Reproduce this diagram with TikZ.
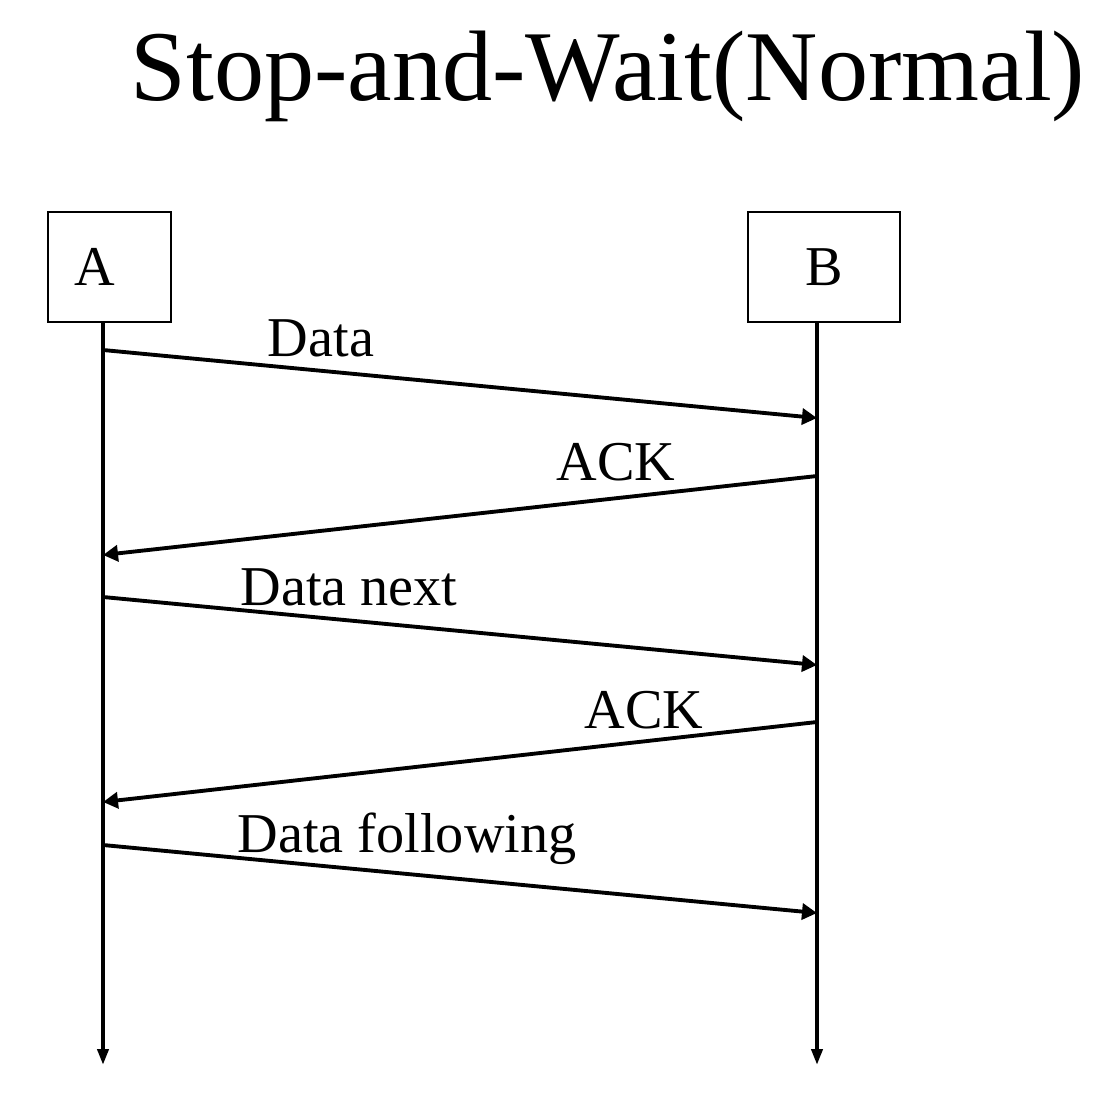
\documentclass[tikz,border=0pt]{standalone}
\usepackage{fontspec}
\setmainfont{Liberation Serif}
\usetikzlibrary{arrows.meta}
\tikzset{
  party/.style={draw,line width=0.4pt,minimum height=1.10cm,inner sep=0pt,font=\fontsize{16}{19}\selectfont},
  lifeline/.style={line width=1.1pt,-{Triangle[length=1.6mm,width=1.1mm]}},
  msg/.style={line width=1.1pt,-{Triangle[length=1.5mm,width=1.6mm]}},
  msglabel/.style={anchor=base,font=\fontsize{16}{19}\selectfont}
}
\begin{document}
\begin{tikzpicture}
  \useasboundingbox (0,0) rectangle (11.18,-11.20);
  % title
  \node[anchor=base,font=\fontsize{28.5}{34}\selectfont] (title) at (6.08,-1.00) {Stop-and-Wait(Normal)};
  % the two parties and their time lines
  \node[party,minimum width=1.23cm,label={[font=\fontsize{16}{19}\selectfont,xshift=-1.45mm]center:A}] (A) at (1.095,-2.67) {};
  \node[party,minimum width=1.52cm] (B) at (8.24,-2.67) {B};
  \coordinate (Atop) at (1.03,-3.22);
  \coordinate (Aend) at (1.03,-10.65);
  \coordinate (Btop) at (8.17,-3.22);
  \coordinate (Bend) at (8.17,-10.65);
  \draw[lifeline] (Atop) -- (Aend);
  \draw[lifeline] (Btop) -- (Bend);
  % send and receive points
  \coordinate (a1) at (1.03,-3.50);  \coordinate (b1) at (8.17,-4.18);
  \coordinate (b2) at (8.17,-4.76);  \coordinate (a2) at (1.03,-5.55);
  \coordinate (a3) at (1.03,-5.97);  \coordinate (b3) at (8.17,-6.65);
  \coordinate (b4) at (8.17,-7.22);  \coordinate (a4) at (1.03,-8.02);
  \coordinate (a5) at (1.03,-8.45);  \coordinate (b5) at (8.17,-9.13);
  \draw[msg] (a1) -- (b1);
  \draw[msg] (b2) -- (a2);
  \draw[msg] (a3) -- (b3);
  \draw[msg] (b4) -- (a4);
  \draw[msg] (a5) -- (b5);
  % labels
  \node[msglabel] (l1) at (3.21,-3.56) {Data};
  \node[msglabel] (l2) at (6.16,-4.80) {ACK};
  \node[msglabel] (l3) at (3.49,-6.05) {Data next};
  \node[msglabel] (l4) at (6.44,-7.28) {ACK};
  \node[msglabel] (l5) at (4.07,-8.52) {Data following};
\end{tikzpicture}
\end{document}
